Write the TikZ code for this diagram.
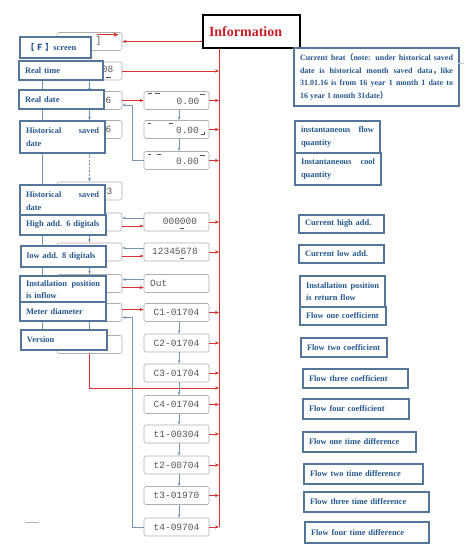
\documentclass[tikz,border=0pt]{standalone}
\usepackage{fontspec}
\setmainfont{Liberation Serif}
\newfontfamily\cjk{Noto Sans CJK SC}
\newfontfamily\segfont{Liberation Mono}
\usetikzlibrary{arrows.meta,calc}
\definecolor{busred}{RGB}{214,48,48}
\definecolor{linkblue}{RGB}{118,148,178}
\definecolor{labborder}{RGB}{84,118,152}
\definecolor{labtext}{RGB}{38,88,140}
\definecolor{dispgray}{RGB}{175,175,175}
\definecolor{segtext}{RGB}{85,85,85}
\definecolor{infored}{RGB}{200,32,40}
\begin{document}
\begin{tikzpicture}[x=1pt,y=-1pt,
  disp/.style={draw=dispgray, line width=0.6pt, rounded corners=2pt, fill=white, minimum width=65pt, minimum height=18pt, inner sep=0pt, font=\segfont\fontsize{9.5}{9.5}\selectfont, text=segtext},
  seg/.style={font=\segfont\fontsize{9.5}{9.5}\selectfont, text=segtext, inner sep=0pt},
  dmark/.style={fill=segtext},
  lab/.style n args={3}{draw=labborder, line width=1.6pt, fill=white, text=labtext, font=\bfseries\fontsize{8.4}{12.5}\selectfont, minimum width=#1pt, minimum height=#2pt, text width=#3pt, inner xsep=6pt, inner ysep=0pt, align=left},
  redarrow/.style={draw=busred, line width=0.8pt, -{Stealth[length=4pt,width=3.2pt]}},
  redline/.style={draw=busred, line width=0.8pt},
  bluearrow/.style={draw=linkblue, line width=0.7pt, -{Stealth[length=3.5pt,width=2.8pt]}},
  blueline/.style={draw=linkblue, line width=0.7pt},
]
\fill[white] (0,0) rectangle (464,546);
\useasboundingbox (0,0) rectangle (464,546);

% Information box
\node[draw=black, line width=1.8pt, fill=white, minimum width=97pt, minimum height=33pt, text width=85pt, inner xsep=6pt, align=left, font=\bfseries\fontsize{14}{14}\selectfont, text=infored] (info) at (251.5,31.5) {Information};

% left displays
\node[disp] (dF)  at (89.5,41.5) {};
\node[disp] (dRT) at (89.5,71) {};
\node[disp] (dRD) at (89.5,100.5) {};
\node[disp] (dH1) at (89.5,129.5) {};
\node[disp] (dH2) at (89.5,191) {};
\node[disp] (dHA) at (89.5,222) {};
\node[disp] (dLA) at (89.5,252) {};
\node[disp] (dIN) at (89.5,283.5) {};
\node[disp] (dMD) at (89.5,312.5) {};
\node[disp] (dVE) at (89.5,344.5) {};
\node[seg] (tF)  at (98.5,41.5) {]};
\node[seg] (tRT) at (107.5,69.5) {08};
\node[seg] (tRD) at (108.5,100.5) {6};
\node[seg] (tH1) at (108.5,129.5) {6};
\node[seg] (tH2) at (109.5,191) {3};
\fill[dmark] (106,76.5) rectangle (111,77.5);

% right displays
\node[disp] (R1) at (176.5,100.5) {};
\node[disp] (R2) at (176.5,129.5) {};
\node[disp] (R3) at (176.5,160.5) {};
\node[disp] (R4) at (176.5,222) {};
\node[disp] (R5) at (176.5,252) {};
\node[disp] (R6) at (176.5,283.5) {};
\node[disp] (C1) at (176.5,312.5) {C1-01704};
\node[disp] (C2) at (176.5,343) {C2-01704};
\node[disp] (C3) at (176.5,373) {C3-01704};
\node[disp] (C4) at (176.5,404.5) {C4-01704};
\node[disp] (T1) at (176.5,434) {t1-00304};
\node[disp] (T2) at (176.5,465) {t2-00704};
\node[disp] (T3) at (176.5,495.5) {t3-01970};
\node[disp] (T4) at (176.5,527) {t4-09704};
\node[seg] (tR1) at (188,101) {0.00};
\node[seg] (tR2) at (187.5,130) {0.00};
\node[seg] (tR3) at (187.5,161) {0.00};
\node[seg] (tR4) at (180,221.5) {000000};
\node[seg] (tR5) at (175,251.5) {12345678};
\node[seg, anchor=west] (tR6) at (150,283.5) {Out};
% small display marks
\fill[dmark] (148,93) rectangle (152,94.2);
\fill[dmark] (155,93) rectangle (160,94.2);
\fill[dmark] (200,94) rectangle (205,95.2);
\fill[dmark] (148,123) rectangle (151,124.2);
\fill[dmark] (169,123) rectangle (173,124.2);
\draw[segtext, line width=0.5pt] (204,132) -- (204,134.5) -- (201,134.5);
\fill[dmark] (148,154) rectangle (151,155.2);
\fill[dmark] (157,154) rectangle (161,155.2);
\fill[dmark] (200,155) rectangle (205,156.2);
\fill[dmark] (180,227.5) rectangle (184,228.7);
\fill[dmark] (180,257.5) rectangle (184,258.7);

% bus
\coordinate (busX) at (219,0);
\coordinate (busTop) at (info.south -| busX);
\coordinate (busBot) at (T4.east -| busX);
\draw[redline] (busTop) -- (busBot);

% red connectors
\draw[redarrow] (info.west |- dF.east) -- (dF.east);
\draw[busred, line width=1.4pt, -{Stealth[length=5pt,width=4.5pt]}] ([xshift=7.5pt,yshift=-2.5pt]dF.north) -- ([xshift=29pt,yshift=-2.5pt]dF.north);
\draw[redarrow] (dRT.east) -- (dRT.east -| busX);
\draw[redarrow] (dRD.east) -- (R1.west);
\foreach \n in {R1,R2,R3,R4,R5,C1,C2,C3,C4,T1,T2,T3,T4}
  \draw[redarrow] (\n.east) -- (\n.east -| busX);
\coordinate (vturn) at (89.5,388);
\draw[redarrow] (dVE.south) -- (vturn) -- (vturn -| busX);
\draw[redarrow] ([yshift=3pt]dMD.east) -- ([yshift=3pt]C1.west);
\foreach \a/\b in {dHA/R4,dLA/R5,dIN/R6}{
  \draw[bluearrow] ([yshift=4pt]\b.west) -- ([yshift=4pt]\a.east);
  \draw[redarrow] ([yshift=-4pt]\a.east) -- ([yshift=-4pt]\b.west);
}

% blue connectors
\draw[bluearrow] ([xshift=2.5pt]R1.south) -- ([xshift=2.5pt]R2.north);
\draw[bluearrow] ([xshift=2.5pt]R2.south) -- ([xshift=2.5pt]R3.north);
\draw[bluearrow] (R3.west) -- ++(-11,0) |- ([yshift=-4.5pt]dRD.east);
\draw[bluearrow] (T4.west) -- ++(-11,0) |- ([yshift=-5pt]dMD.east);
\foreach \a/\b in {C1/C2,C2/C3,C3/C4,C4/T1,T1/T2,T2/T3,T3/T4}
  \draw[bluearrow] ([xshift=2.5pt]\a.south) -- ([xshift=2.5pt]\b.north);
\foreach \a/\b in {dRT/dRD,dRD/dH1,dH2/dHA,dHA/dLA,dLA/dIN,dIN/dMD,dMD/dVE}
  \draw[bluearrow] (\a.south) -- (\b.north);
\draw[bluearrow, dash pattern=on 2pt off 1.5pt] (dH1.south) -- (dH2.north);
\draw[blueline] ([xshift=-47.5pt]dRT.south) -- ([xshift=-47.5pt]dVE.north);

% left labels
\node[lab={71}{21}{59}] (lF) at (55.5,47.5) {{\cjk 【 F 】}screen};
\node[lab={84}{19}{72}] (lRT) at (61,70.5) {Real time};
\node[lab={85}{19}{73}] (lRD) at (61.5,99.5) {Real date};
\node[lab={85}{32}{73}] (lH1) at (62.5,137) {Historical\hfill saved\\date};
\node[lab={85}{32}{73}] (lH2) at (62.5,201) {Historical\hfill saved\\date};
\node[lab={86}{20}{74}] (lHA) at (63,225) {High add. 6 digitals};
\node[lab={85}{21}{73}] (lLA) at (63.5,256.5) {low add. 8 digitals};
\node[lab={86}{27}{74}] (lIN) at (63,289.5) {Installation\hfill position\\is inflow};
\node[lab={86}{19}{74}] (lMD) at (63,311.5) {Meter diameter};
\node[lab={86}{20}{74}] (lVE) at (64,340) {Version};

% right labels
\node[lab={165}{58}{153}, align=justify, font=\bfseries\fontsize{8}{12.5}\selectfont] (rCH) at (376.5,77) {Current heat{\cjk （}note: under historical saved\linebreak date is historical month saved data{\cjk ，}like\linebreak 31.01.16 is from 16 year 1 month 1 date to\linebreak 16 year 1 month 31date{\cjk ）}};
\node[lab={85}{32}{73}] (rIF) at (337.5,137) {instantaneous\hfill flow\\quantity};
\node[lab={86}{32}{74}] (rIC) at (338,169) {Instantaneous\hfill cool\\quantity};
\node[lab={85}{18}{73}] (rCHA) at (341.5,224) {Current high add.};
\node[lab={85}{18}{73}] (rCLA) at (341.5,254) {Current low add.};
\node[lab={85}{31}{73}] (rIR) at (342.5,291.5) {Installation\hfill position\\is return flow};
\node[lab={86}{18}{74}] (rF1C) at (343,316) {Flow one coefficient};
\node[lab={86}{19}{74}] (rF2C) at (344,347.5) {Flow two coefficient};
\node[lab={105}{19}{93}] (rF3C) at (355.5,378.5) {Flow three coefficient};
\node[lab={106}{20}{94}] (rF4C) at (356,409) {Flow four coefficient};
\node[lab={113}{20}{101}] (rF1T) at (359.5,442) {Flow one time difference};
\node[lab={119}{20}{107}] (rF2T) at (363.5,474) {Flow two time difference};
\node[lab={125}{20}{113}] (rF3T) at (366.5,502) {Flow three time difference};
\node[lab={124}{21}{112}] (rF4T) at (367,532.5) {Flow four time difference};

% faint marks
\draw[gray!45, line width=0.5pt] (458,63) -- (464,63);
\draw[gray!60, line width=0.6pt] (25,522) -- (39,522);
\end{tikzpicture}
\end{document}
